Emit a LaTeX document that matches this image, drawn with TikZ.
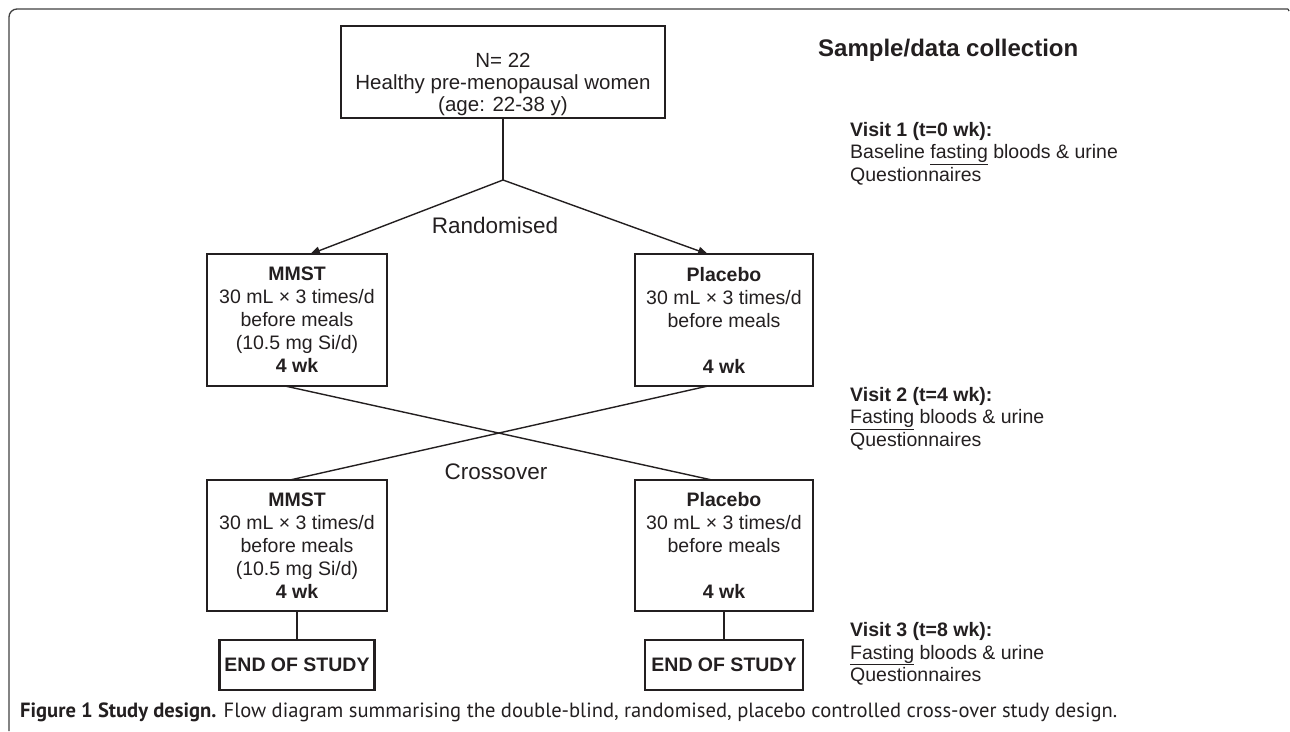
\documentclass[tikz,border=0pt]{standalone}
\usepackage{fontspec}
\usepackage{graphicx}
\setmainfont{Liberation Sans}
\newfontfamily\capfont{PT Sans}
\usetikzlibrary{arrows.meta}
\definecolor{ink}{HTML}{231F20}
\begin{document}
\begin{tikzpicture}[x=1pt,y=-1pt,
  box/.style={draw=ink, line width=2.6pt, rectangle, inner sep=0pt, align=center, text=ink, font=\fontsize{19.5}{23}\selectfont},
  conn/.style={draw=ink, line width=1.4pt},
  arr/.style={conn, -{Triangle[length=10pt,width=8pt]}},
  lbl/.style={text=ink, inner sep=0pt, font=\fontsize{22.5}{26}\selectfont},
  visit/.style={text=ink, inner sep=0pt, anchor=west, align=left, font=\fontsize{19.5}{22.5}\selectfont}]
\useasboundingbox (0,0) rectangle (1290,731);
% outer frame
\draw[black!75, line width=1.3pt, rounded corners=8pt] (9,731) -- (9,9) -- (1288,9);
\draw[black!75, line width=1.3pt] (1288,9) -- (1289,11);

% boxes
\node[box, minimum width=324pt, minimum height=92pt] (top) at (503,72) {};
\node[text=ink, align=center, inner sep=0pt, font=\fontsize{20.5}{22}\selectfont] (toptxt) at (503,84) {N= 22\\Healthy pre-menopausal women\\(age: 22-38 y)};

\node[box, minimum width=180pt, minimum height=132pt] (mmst1) at (297,320) {\textbf{MMST}\\30 mL × 3 times/d\\before meals\\(10.5 mg Si/d)\\\textbf{4 wk}};
\node[box, minimum width=178pt, minimum height=132pt] (plac1) at (724,320) {\textbf{Placebo}\\30 mL × 3 times/d\\before meals\\\strut\\\textbf{4 wk}};
\node[box, minimum width=180pt, minimum height=131pt] (mmst2) at (297,545.5) {\textbf{MMST}\\30 mL × 3 times/d\\before meals\\(10.5 mg Si/d)\\\textbf{4 wk}};
\node[box, minimum width=178pt, minimum height=131pt] (plac2) at (724,545.5) {\textbf{Placebo}\\30 mL × 3 times/d\\before meals\\\strut\\\textbf{4 wk}};
\node[box, minimum width=155pt, minimum height=50pt] (end1) at (297,665) {\textbf{END OF STUDY}};
\node[box, minimum width=158pt, minimum height=50pt] (end2) at (724,665) {\textbf{END OF STUDY}};

% connectors
\coordinate (split) at (503,180);
\draw[conn] (top.south) -- (split);
\draw[arr] (split) -- ([xshift=13pt,yshift=-1.5pt]mmst1.north);
\draw[arr] (split) -- ([xshift=-16pt,yshift=-1.5pt]plac1.north);
\draw[conn] ([xshift=-12pt,yshift=1.3pt]mmst1.south) -- ([xshift=-12pt,yshift=-1.3pt]plac2.north);
\draw[conn] ([xshift=-16pt,yshift=1.3pt]plac1.south) -- ([xshift=-7pt,yshift=-1.3pt]mmst2.north);
\draw[conn] (mmst2.south) -- (end1.north);
\draw[conn] (plac2.south) -- (end2.north);

% labels
\node[lbl] (rand) at (495,225) {Randomised};
\node[lbl] (cross) at (496,472) {Crossover};

\node[text=ink, inner sep=0pt, anchor=west, font=\fontsize{24}{27}\selectfont\bfseries] (title) at (818,50) {Sample/data collection};
\node[visit] (v1) at (850,153.5) {\textbf{Visit 1 (t=0 wk):}\\Baseline \underline{fasting} bloods \& urine\\Questionnaires};
\node[visit] (v2) at (850,418.5) {\textbf{Visit 2 (t=4 wk):}\\\underline{Fasting} bloods \& urine\\Questionnaires};
\node[visit] (v3) at (850,654) {\textbf{Visit 3 (t=8 wk):}\\\underline{Fasting} bloods \& urine\\Questionnaires};

% caption
\node[anchor=west, inner sep=0pt, text=ink] (cap) at (20,712) {\resizebox{1097pt}{!}{\capfont\fontsize{17}{20}\selectfont\textbf{Figure 1 Study design.} Flow diagram summarising the double-blind, randomised, placebo controlled cross-over study design.}};
\end{tikzpicture}
\end{document}
